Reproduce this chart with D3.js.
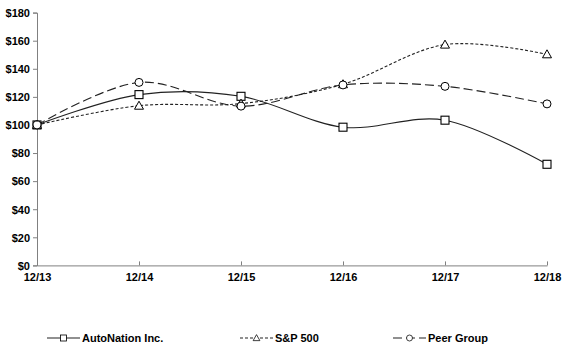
<!DOCTYPE html>
<html lang="en">
<head>
<meta charset="utf-8">
<script src="https://cdn.jsdelivr.net/npm/d3@7"></script>
<style>
  body { margin: 0; background: #fff; }
  text { font-family: "Liberation Sans", Arial, sans-serif; font-weight: bold; font-size: 11px; fill: #000; }
</style>
</head>
<body>
<div id="chart"></div>
<script>
let years = ['12/13', '12/14', '12/15', '12/16', '12/17', '12/18']
let autoNation = [100, 121.6, 120.4, 98.4, 103.4, 72]
let sp500 = [100, 113.7, 115.2, 129, 157.2, 150.3]
let peerGroup = [100, 130.3, 113.4, 128.5, 127.5, 115]
let yTicks = [0, 20, 40, 60, 80, 100, 120, 140, 160, 180]

let w = 571
let h = 354
let padding = { left: 37, right: 24, top: 12.6, bottom: 88.6 }

let series = [
    { name: 'AutoNation Inc.', values: autoNation, dash: null, marker: 'square', lx: 47 },
    { name: 'S&P 500', values: sp500, dash: '3,2', marker: 'triangle', lx: 240 },
    { name: 'Peer Group', values: peerGroup, dash: '9,4', marker: 'circle', lx: 393 }
]

let xScale = d3.scalePoint()
    .domain(years)
    .range([padding.left, w - padding.right])
let yScale = d3.scaleLinear()
    .domain([0, 180])
    .range([h - padding.bottom, padding.top])

let svg = d3.select('#chart')
    .append('svg')
    .attr('width', w)
    .attr('height', h)

// axes
let yAxis = d3.axisLeft(yScale)
    .tickValues(yTicks)
    .tickSize(4)
    .tickFormat(d => '$' + d)
let gy = svg.append('g')
    .attr('transform', 'translate(' + padding.left + ',0)')
    .call(yAxis)
gy.select('.domain').attr('stroke', '#808080')
gy.selectAll('.tick line').attr('stroke', '#808080')
gy.selectAll('.tick text').attr('x', -7).attr('dy', '0.35em')
    .style('font-family', '"Liberation Sans", Arial, sans-serif').style('font-weight', 'bold').style('font-size', '11px').attr('fill', '#000')

let xAxis = d3.axisBottom(xScale)
    .tickSizeInner(-4)
    .tickSizeOuter(0)
let gx = svg.append('g')
    .attr('transform', 'translate(0,' + (h - padding.bottom) + ')')
    .call(xAxis)
gx.select('.domain').attr('stroke', '#808080')
gx.selectAll('.tick line').attr('stroke', '#808080')
gx.selectAll('.tick text').attr('y', 8).attr('dy', '0.71em')
    .style('font-family', '"Liberation Sans", Arial, sans-serif').style('font-weight', 'bold').style('font-size', '11px').attr('fill', '#000')

let line = d3.line()
    .x((d, i) => xScale(years[i]))
    .y(d => yScale(d))
    .curve(d3.curveCatmullRom.alpha(0))

function drawMarker(g, type, x, y) {
    if (type === 'square') {
        g.append('rect').attr('x', x - 4).attr('y', y - 4).attr('width', 8).attr('height', 8)
            .attr('fill', '#fff').attr('stroke', '#000').attr('stroke-width', 1.1)
    } else if (type === 'triangle') {
        g.append('path').attr('d', 'M' + x + ',' + (y - 4.5) + 'L' + (x + 4.5) + ',' + (y + 3.5) + 'L' + (x - 4.5) + ',' + (y + 3.5) + 'Z')
            .attr('fill', '#fff').attr('stroke', '#000').attr('stroke-width', 1)
    } else {
        g.append('circle').attr('cx', x).attr('cy', y).attr('r', 4)
            .attr('fill', '#fff').attr('stroke', '#000').attr('stroke-width', 1)
    }
}

series.forEach(s => {
    svg.append('path')
        .datum(s.values)
        .attr('d', line)
        .attr('fill', 'none')
        .attr('stroke', '#222')
        .attr('stroke-width', 1.1)
        .attr('stroke-dasharray', s.dash)
})
series.forEach(s => {
    let g = svg.append('g')
    s.values.forEach((v, i) => drawMarker(g, s.marker, xScale(years[i]), yScale(v)))
})

// legend
let ly = 338
series.forEach(s => {
    let g = svg.append('g')
    g.append('line')
        .attr('x1', s.lx).attr('x2', s.lx + 33)
        .attr('y1', ly).attr('y2', ly)
        .attr('stroke', '#222').attr('stroke-width', 1.1)
        .attr('stroke-dasharray', s.dash)
    let mg = g.append('g').attr('transform', 'translate(' + (s.lx + 16.5) + ',' + ly + ') scale(0.75) translate(' + -(s.lx + 16.5) + ',' + -ly + ')')
    drawMarker(mg, s.marker, s.lx + 16.5, ly)
    g.append('text')
        .attr('x', s.lx + 35)
        .attr('y', ly)
        .attr('dy', '0.35em')
        .text(s.name)
})
</script>
</body>
</html>
